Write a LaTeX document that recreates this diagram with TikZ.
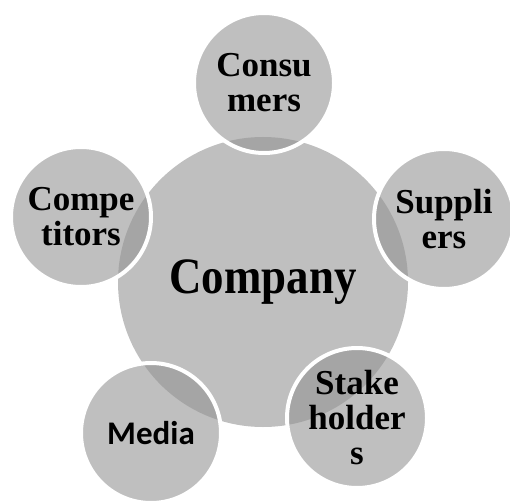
\documentclass[tikz,border=0pt]{standalone}
\usepackage{fontspec}
\setmainfont{Liberation Serif}
\newfontfamily\mediafont{Carlito}
\newfontfamily\hubfont[FakeStretch=0.88]{Liberation Serif Bold}
\usepackage{tikz}
\usetikzlibrary{positioning}

\definecolor{hubgray}{gray}{0.75}
\definecolor{satgray}{gray}{0.59}

\tikzset{
    hub/.style={circle, fill=hubgray, minimum size=290pt, inner sep=0pt,
        font=\fontsize{51}{56}\hubfont},
    sat/.style={circle, fill=satgray, fill opacity=0.61, text opacity=1,
        draw=white, draw opacity=1, line width=4pt, minimum size=140pt,
        inner sep=0pt, align=center,
        font=\fontsize{35}{35}\selectfont\bfseries}
}

\begin{document}
\begin{tikzpicture}[x=1pt, y=-1pt]
    \useasboundingbox (0,0) rectangle (510,502);
    \clip (0,0) rectangle (510,502);
    % central circle
    \node[hub] (company) at (263,282) {Company};
    % the five around it
    \node[sat] (consumers) at (264,83) {Consu\\mers};
    \node[sat] (competitors) at (81,217) {Compe\\titors};
    \node[sat] (suppliers) at (444,219) {Suppli\\ers};
    \node[sat] (stakeholders) at (357,418) {Stake\\holder\\s};
    \node[sat, font=\fontsize{33}{35}\mediafont\bfseries] (media) at (151,433) {Media};
\end{tikzpicture}
\end{document}
